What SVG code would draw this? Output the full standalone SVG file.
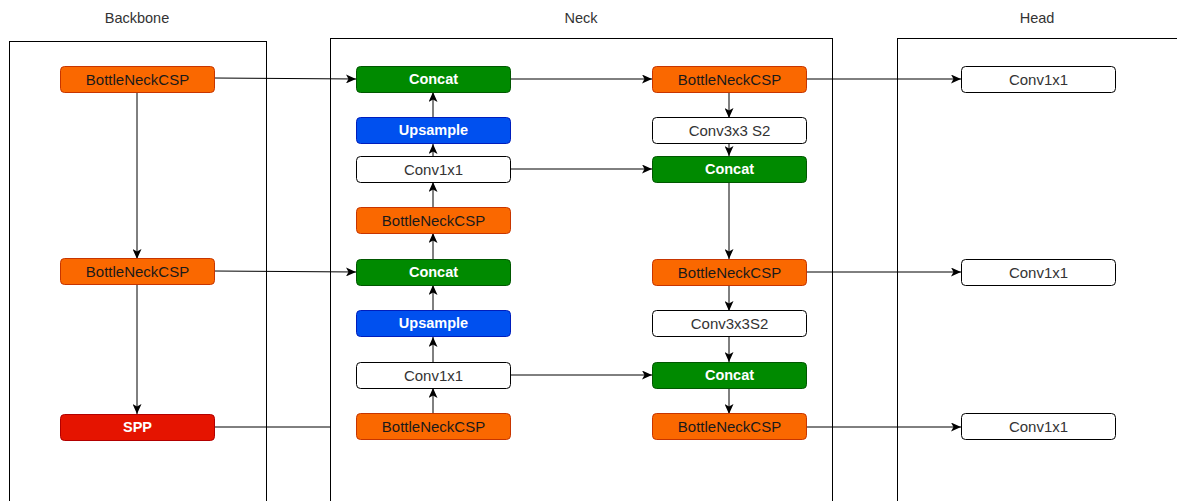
<svg xmlns="http://www.w3.org/2000/svg" width="1177" height="501" viewBox="0 0 1177 501">
<style>
text{font-family:"Liberation Sans",Arial,sans-serif;font-size:15px;text-anchor:middle;dominant-baseline:central}
.lbl{fill:#333333;font-size:14.5px}
.cont{fill:none;stroke:#000;stroke-width:1}
.orange{fill:#fa6800;stroke:#c73500}
.green{fill:#008a00;stroke:#005700}
.blue{fill:#0050ef;stroke:#001dbc}
.red{fill:#e51400;stroke:#b20000}
.white{fill:#ffffff;stroke:#000000}
.tdark{fill:#1a1a1a}
.tgray{fill:#333333}
.tw{fill:#ffffff;font-weight:bold;font-size:14.5px}
.edge{fill:none;stroke:#000;stroke-width:1}
</style>
<defs>
<marker id="arr" viewBox="0 0 10 10" refX="10" refY="5" markerWidth="10" markerHeight="9" markerUnits="userSpaceOnUse" orient="auto" preserveAspectRatio="none">
<path d="M0,0 L10,5 L0,10 L2.5,5 Z" fill="#000"/>
</marker>
</defs>
<rect width="1177" height="501" fill="#ffffff"/>
<g id="containers">
<rect class="cont" x="9.5" y="41.5" width="257" height="470"/>
<rect class="cont" x="330.5" y="38.5" width="502" height="470"/>
<rect class="cont" x="897.5" y="38.5" width="290" height="470"/>
<text class="lbl" x="137" y="18">Backbone</text>
<text class="lbl" x="581" y="18">Neck</text>
<text class="lbl" x="1037" y="18">Head</text>
</g>
<g id="connectors">
<path class="edge" d="M214,78 L356,79" marker-end="url(#arr)"/>
<path class="edge" d="M137,92 L137,259" marker-end="url(#arr)"/>
<path class="edge" d="M137,285 L137,414" marker-end="url(#arr)"/>
<path class="edge" d="M214,271 L356,272" marker-end="url(#arr)"/>
<path class="edge" d="M214,427 L331,427"/>
<path class="edge" d="M433,414 L433,388" marker-end="url(#arr)"/>
<path class="edge" d="M433,362 L433,337" marker-end="url(#arr)"/>
<path class="edge" d="M433,311 L433,285" marker-end="url(#arr)"/>
<path class="edge" d="M433,259 L433,233" marker-end="url(#arr)"/>
<path class="edge" d="M433,208 L433,182" marker-end="url(#arr)"/>
<path class="edge" d="M433,156 L433,144" marker-end="url(#arr)"/>
<path class="edge" d="M433,118 L433,92" marker-end="url(#arr)"/>
<path class="edge" d="M510,79 L652,79" marker-end="url(#arr)"/>
<path class="edge" d="M510,169 L652,169" marker-end="url(#arr)"/>
<path class="edge" d="M510,375 L652,375" marker-end="url(#arr)"/>
<path class="edge" d="M729,92 L729,118" marker-end="url(#arr)"/>
<path class="edge" d="M729,144 L729,156" marker-end="url(#arr)"/>
<path class="edge" d="M729,182 L729,259" marker-end="url(#arr)"/>
<path class="edge" d="M729,285 L729,311" marker-end="url(#arr)"/>
<path class="edge" d="M729,337 L729,362" marker-end="url(#arr)"/>
<path class="edge" d="M729,388 L729,414" marker-end="url(#arr)"/>
<path class="edge" d="M806,79 L961,79" marker-end="url(#arr)"/>
<path class="edge" d="M806,272 L961,272" marker-end="url(#arr)"/>
<path class="edge" d="M806,427 L961,427" marker-end="url(#arr)"/>
</g>
<g id="bb_csp1"><rect class="orange" x="60.5" y="66.5" width="154" height="26" rx="4"/><text class="tdark" x="137.5" y="79">BottleNeckCSP</text></g>
<g id="bb_csp2"><rect class="orange" x="60.5" y="258.5" width="154" height="26" rx="4"/><text class="tdark" x="137.5" y="271">BottleNeckCSP</text></g>
<g id="bb_spp"><rect class="red" x="60.5" y="414.5" width="154" height="26" rx="4"/><text class="tw" x="137.5" y="427">SPP</text></g>

<g id="n_concat1"><rect class="green" x="356.5" y="66.5" width="154" height="26" rx="4"/><text class="tw" x="433.5" y="79">Concat</text></g>
<g id="n_up1"><rect class="blue" x="356.5" y="117.5" width="154" height="26" rx="4"/><text class="tw" x="433.5" y="130">Upsample</text></g>
<g id="n_conv1"><rect class="white" x="356.5" y="156.5" width="154" height="26" rx="4"/><text class="tgray" x="433.5" y="169">Conv1x1</text></g>
<g id="n_csp1"><rect class="orange" x="356.5" y="207.5" width="154" height="26" rx="4"/><text class="tdark" x="433.5" y="220">BottleNeckCSP</text></g>
<g id="n_concat2"><rect class="green" x="356.5" y="259.5" width="154" height="26" rx="4"/><text class="tw" x="433.5" y="272">Concat</text></g>
<g id="n_up2"><rect class="blue" x="356.5" y="310.5" width="154" height="26" rx="4"/><text class="tw" x="433.5" y="323">Upsample</text></g>
<g id="n_conv2"><rect class="white" x="356.5" y="362.5" width="154" height="26" rx="4"/><text class="tgray" x="433.5" y="375">Conv1x1</text></g>
<g id="n_csp2"><rect class="orange" x="356.5" y="413.5" width="154" height="26" rx="4"/><text class="tdark" x="433.5" y="426">BottleNeckCSP</text></g>

<g id="r_csp1"><rect class="orange" x="652.5" y="66.5" width="154" height="26" rx="4"/><text class="tdark" x="729.5" y="79">BottleNeckCSP</text></g>
<g id="r_conv1"><rect class="white" x="652.5" y="117.5" width="154" height="26" rx="4"/><text class="tgray" x="729.5" y="130">Conv3x3 S2</text></g>
<g id="r_concat1"><rect class="green" x="652.5" y="156.5" width="154" height="26" rx="4"/><text class="tw" x="729.5" y="169">Concat</text></g>
<g id="r_csp2"><rect class="orange" x="652.5" y="259.5" width="154" height="26" rx="4"/><text class="tdark" x="729.5" y="272">BottleNeckCSP</text></g>
<g id="r_conv2"><rect class="white" x="652.5" y="310.5" width="154" height="26" rx="4"/><text class="tgray" x="729.5" y="323">Conv3x3S2</text></g>
<g id="r_concat2"><rect class="green" x="652.5" y="362.5" width="154" height="26" rx="4"/><text class="tw" x="729.5" y="375">Concat</text></g>
<g id="r_csp3"><rect class="orange" x="652.5" y="413.5" width="154" height="26" rx="4"/><text class="tdark" x="729.5" y="426">BottleNeckCSP</text></g>

<g id="h_conv1"><rect class="white" x="961.5" y="66.5" width="154" height="26" rx="4"/><text class="tgray" x="1038.5" y="79">Conv1x1</text></g>
<g id="h_conv2"><rect class="white" x="961.5" y="259.5" width="154" height="26" rx="4"/><text class="tgray" x="1038.5" y="272">Conv1x1</text></g>
<g id="h_conv3"><rect class="white" x="961.5" y="413.5" width="154" height="26" rx="4"/><text class="tgray" x="1038.5" y="426">Conv1x1</text></g>
</svg>
